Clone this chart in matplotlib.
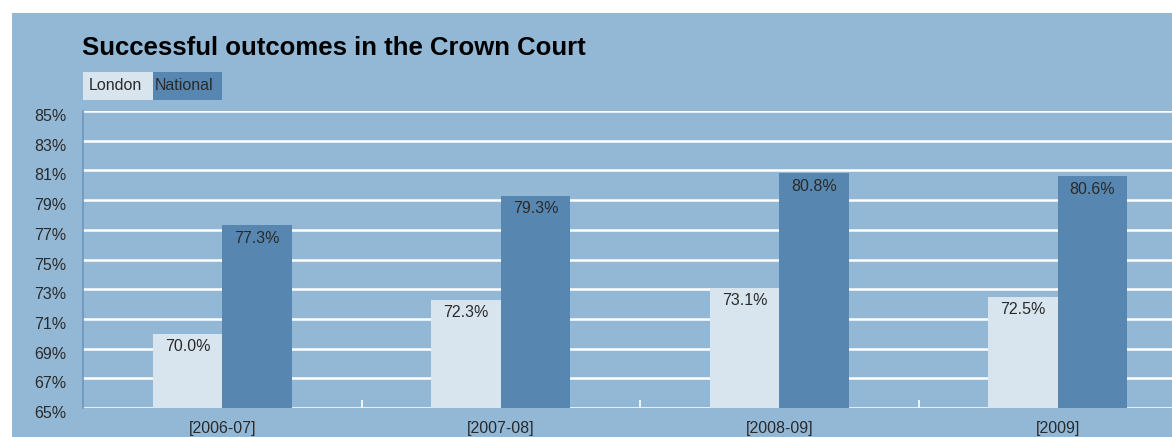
import matplotlib.pyplot as plt
import matplotlib.transforms as mtransforms
import numpy as np

plt.rcParams['font.family'] = ['Liberation Sans', 'DejaVu Sans']

# data
periods = ["[2006-07]", "[2007-08]", "[2008-09]", "[2009]"]
london = [70.0, 72.3, 73.1, 72.5]
national = [77.3, 79.3, 80.8, 80.6]
yticks = [65, 67, 69, 71, 73, 75, 77, 79, 81, 83, 85]

bg = "#93b8d6"
c_london = "#d9e5ee"
c_national = "#5787b0"
txt = "#2a2a2a"

fig = plt.figure(figsize=(11.72, 4.37), dpi=100)
fig.patch.set_facecolor("white")
# blue panel
fig.patches.append(plt.Rectangle((12 / 1172, 0), 1, 424 / 437, transform=fig.transFigure,
                                 facecolor=bg, edgecolor="none", zorder=-10))

ax = fig.add_axes([83 / 1172, 29 / 437, 1114 / 1172, 297 / 437])
ax.set_facecolor("none")

x = np.arange(len(periods))
w = 0.25
ax.bar(x - w / 2, [v - 65 for v in london], w, bottom=65, color=c_london, zorder=3)
ax.bar(x + w / 2, [v - 65 for v in national], w, bottom=65, color=c_national, zorder=3)

for xs, vals in ((x - w / 2, london), (x + w / 2, national)):
    for xi, v in zip(xs, vals):
        ax.annotate(f"{v:.1f}%", (xi, v), xytext=(0, -4), textcoords="offset points",
                    ha="center", va="top", fontsize=11.5, color=txt, zorder=4)

ax.set_xlim(-0.5, len(periods) - 0.5)
ax.set_ylim(65, 85)
ax.set_yticks(yticks)
ax.set_yticklabels([f"{t}%" for t in yticks])
ax.set_xticks(x)
ax.set_xticklabels(periods)
ax.set_xticks(x[:-1] + 0.5, minor=True)
ax.tick_params(axis="y", length=0, pad=12, labelsize=11.5, labelcolor=txt)
ax.tick_params(axis="x", which="major", length=0, pad=9, labelsize=11.5, labelcolor=txt)
ax.tick_params(axis="x", which="minor", direction="in", length=6, width=1.2, color="white")
# y labels sit a bit below their gridlines
shift = mtransforms.ScaledTranslation(0, -4 / 100, fig.dpi_scale_trans)
for lab in ax.get_yticklabels():
    lab.set_transform(lab.get_transform() + shift)

ax.grid(axis="y", color="white", linewidth=1.8, zorder=1)
ax.set_axisbelow(True)
for s in ("top", "right", "bottom"):
    ax.spines[s].set_visible(False)
ax.spines["left"].set_color("#6e97bf")
ax.spines["left"].set_linewidth(1.2)

# title
fig.text(82 / 1172, 1 - 48 / 437, "Successful outcomes in the Crown Court", fontsize=18.5,
         fontweight="bold", color="black", va="center", ha="left")

# legend boxes
fig.patches.append(plt.Rectangle((83 / 1172, 1 - 100 / 437), 70 / 1172, 28 / 437,
                                 transform=fig.transFigure, facecolor=c_london, edgecolor="none"))
fig.patches.append(plt.Rectangle((153 / 1172, 1 - 100 / 437), 69 / 1172, 28 / 437,
                                 transform=fig.transFigure, facecolor=c_national, edgecolor="none"))
fig.text(89 / 1172, 1 - 86 / 437, "London", fontsize=11.5, color=txt, va="center", ha="left")
fig.text(155 / 1172, 1 - 86 / 437, "National", fontsize=11.5, color=txt, va="center", ha="left")

fig.savefig("out.png", dpi=100)
